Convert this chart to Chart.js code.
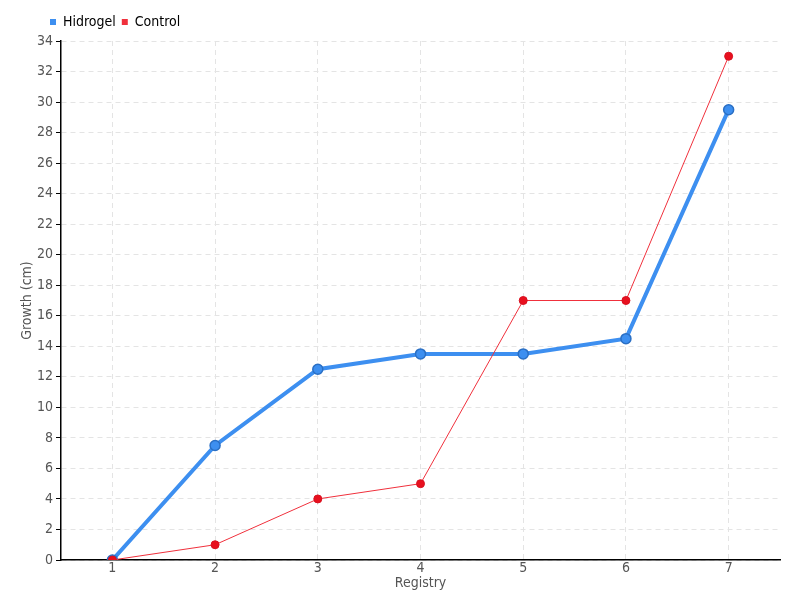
<!DOCTYPE html>
<html>
<head>
<meta charset="utf-8">
<script src="https://cdn.jsdelivr.net/npm/chart.js@4.4.1/dist/chart.umd.min.js"></script>
<style>
  html, body { margin: 0; padding: 0; background: #fff; }
</style>
</head>
<body>
<canvas id="chart" width="800" height="600"></canvas>
<script>
const registry = ['1', '2', '3', '4', '5', '6', '7'];
const hidrogel = [0, 7.5, 12.5, 13.5, 13.5, 14.5, 29.5];
const control = [0, 1, 4, 5, 17, 17, 33];

Chart.defaults.font.family = '"Liberation Sans Narrow", "DejaVu Sans Condensed", sans-serif';
Chart.defaults.font.size = 14;
Chart.defaults.color = '#555';

const border = { color: '#000', width: 1.5, dash: [5, 4] };
const tickFont = { size: 14, lineHeight: 1 };

// nudge the legend to sit where the reference has it
const legendShift = {
  id: 'legendShift',
  afterLayout(chart) {
    const lg = chart.legend;
    lg.left += 24; lg.right += 24;
    lg.top -= 2; lg.bottom -= 2;
  }
};

new Chart(document.getElementById('chart'), {
  type: 'line',
  data: {
    labels: registry,
    datasets: [
      {
        label: 'Hidrogel',
        data: hidrogel,
        order: 1,
        borderColor: '#3d8ff0',
        backgroundColor: '#3d8ff0',
        borderWidth: 4,
        pointRadius: 5,
        pointBorderWidth: 1.5,
        pointBorderColor: '#2a6fc4',
        pointBackgroundColor: '#3d8ff0',
        tension: 0
      },
      {
        label: 'Control',
        data: control,
        order: 0,
        borderColor: '#f0303c',
        backgroundColor: '#e8101e',
        borderWidth: 1,
        pointRadius: 4,
        pointBorderWidth: 1,
        pointBorderColor: '#d81020',
        pointBackgroundColor: '#e8101e',
        tension: 0
      }
    ]
  },
  plugins: [legendShift],
  options: {
    responsive: false,
    animation: false,
    layout: { padding: { left: 20, right: 20, top: 11, bottom: 10 } },
    plugins: {
      legend: {
        align: 'start',
        labels: {
          boxWidth: 6,
          boxHeight: 6,
          padding: 6,
          font: { size: 14 },
          generateLabels(chart) {
            return chart.data.datasets.map((ds, i) => ({
              text: ds.label,
              fillStyle: ds.borderColor,
              strokeStyle: ds.borderColor,
              lineWidth: 0,
              datasetIndex: i,
              hidden: !chart.isDatasetVisible(i)
            }));
          }
        }
      },
      tooltip: { enabled: false }
    },
    scales: {
      x: {
        offset: true,
        grid: { offset: false, color: '#e4e4e4', drawTicks: false },
        border: border,
        ticks: { padding: 1, font: tickFont },
        title: { display: true, text: 'Registry', padding: 0, font: tickFont }
      },
      y: {
        min: 0,
        max: 34,
        grid: { color: '#e4e4e4', tickColor: '#000', tickLength: 5 },
        border: border,
        ticks: { stepSize: 2, padding: 3, font: tickFont },
        title: { display: true, text: 'Growth (cm)', padding: 0, font: tickFont }
      }
    }
  }
});
</script>
</body>
</html>
